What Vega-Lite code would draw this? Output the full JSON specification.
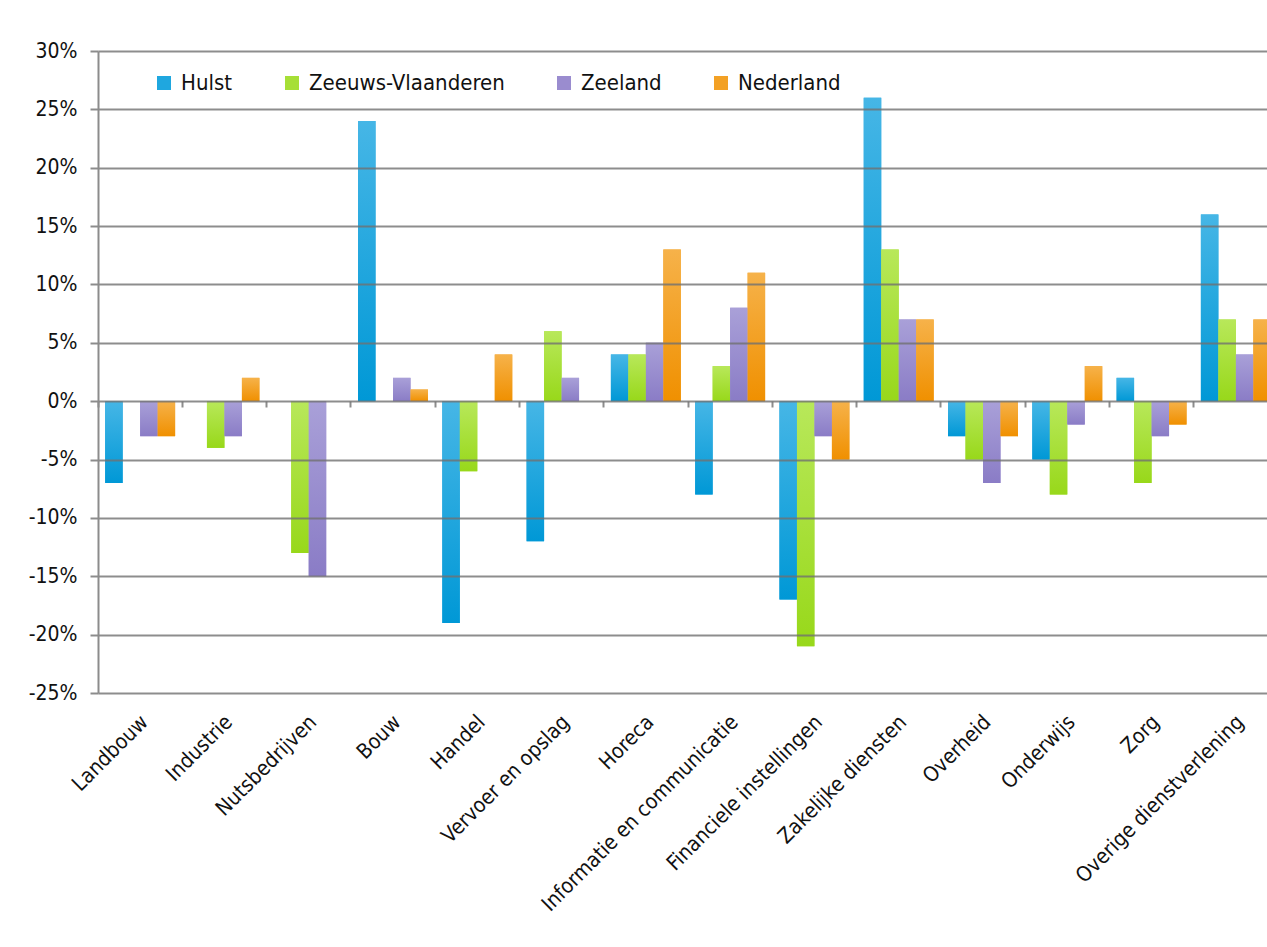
{
  "$schema": "https://vega.github.io/schema/vega-lite/v6.json",
  "description": "Groei werkgelegenheid per sector, Hulst vergeleken met regio",
  "width": 1169,
  "height": 642,
  "autosize": {"type": "none"},
  "padding": {"left": 98, "top": 51, "right": 0, "bottom": 254},
  "background": "white",
  "data": {
    "values": [
      {"sector": "Landbouw", "regio": "Hulst", "value": -7},
      {"sector": "Landbouw", "regio": "Zeeuws-Vlaanderen", "value": 0},
      {"sector": "Landbouw", "regio": "Zeeland", "value": -3},
      {"sector": "Landbouw", "regio": "Nederland", "value": -3},
      {"sector": "Industrie", "regio": "Hulst", "value": 0},
      {"sector": "Industrie", "regio": "Zeeuws-Vlaanderen", "value": -4},
      {"sector": "Industrie", "regio": "Zeeland", "value": -3},
      {"sector": "Industrie", "regio": "Nederland", "value": 2},
      {"sector": "Nutsbedrijven", "regio": "Hulst", "value": 0},
      {"sector": "Nutsbedrijven", "regio": "Zeeuws-Vlaanderen", "value": -13},
      {"sector": "Nutsbedrijven", "regio": "Zeeland", "value": -15},
      {"sector": "Nutsbedrijven", "regio": "Nederland", "value": 0},
      {"sector": "Bouw", "regio": "Hulst", "value": 24},
      {"sector": "Bouw", "regio": "Zeeuws-Vlaanderen", "value": 0},
      {"sector": "Bouw", "regio": "Zeeland", "value": 2},
      {"sector": "Bouw", "regio": "Nederland", "value": 1},
      {"sector": "Handel", "regio": "Hulst", "value": -19},
      {"sector": "Handel", "regio": "Zeeuws-Vlaanderen", "value": -6},
      {"sector": "Handel", "regio": "Zeeland", "value": 0},
      {"sector": "Handel", "regio": "Nederland", "value": 4},
      {"sector": "Vervoer en opslag", "regio": "Hulst", "value": -12},
      {"sector": "Vervoer en opslag", "regio": "Zeeuws-Vlaanderen", "value": 6},
      {"sector": "Vervoer en opslag", "regio": "Zeeland", "value": 2},
      {"sector": "Vervoer en opslag", "regio": "Nederland", "value": 0},
      {"sector": "Horeca", "regio": "Hulst", "value": 4},
      {"sector": "Horeca", "regio": "Zeeuws-Vlaanderen", "value": 4},
      {"sector": "Horeca", "regio": "Zeeland", "value": 5},
      {"sector": "Horeca", "regio": "Nederland", "value": 13},
      {"sector": "Informatie en communicatie", "regio": "Hulst", "value": -8},
      {"sector": "Informatie en communicatie", "regio": "Zeeuws-Vlaanderen", "value": 3},
      {"sector": "Informatie en communicatie", "regio": "Zeeland", "value": 8},
      {"sector": "Informatie en communicatie", "regio": "Nederland", "value": 11},
      {"sector": "Financiele instellingen", "regio": "Hulst", "value": -17},
      {"sector": "Financiele instellingen", "regio": "Zeeuws-Vlaanderen", "value": -21},
      {"sector": "Financiele instellingen", "regio": "Zeeland", "value": -3},
      {"sector": "Financiele instellingen", "regio": "Nederland", "value": -5},
      {"sector": "Zakelijke diensten", "regio": "Hulst", "value": 26},
      {"sector": "Zakelijke diensten", "regio": "Zeeuws-Vlaanderen", "value": 13},
      {"sector": "Zakelijke diensten", "regio": "Zeeland", "value": 7},
      {"sector": "Zakelijke diensten", "regio": "Nederland", "value": 7},
      {"sector": "Overheid", "regio": "Hulst", "value": -3},
      {"sector": "Overheid", "regio": "Zeeuws-Vlaanderen", "value": -5},
      {"sector": "Overheid", "regio": "Zeeland", "value": -7},
      {"sector": "Overheid", "regio": "Nederland", "value": -3},
      {"sector": "Onderwijs", "regio": "Hulst", "value": -5},
      {"sector": "Onderwijs", "regio": "Zeeuws-Vlaanderen", "value": -8},
      {"sector": "Onderwijs", "regio": "Zeeland", "value": -2},
      {"sector": "Onderwijs", "regio": "Nederland", "value": 3},
      {"sector": "Zorg", "regio": "Hulst", "value": 2},
      {"sector": "Zorg", "regio": "Zeeuws-Vlaanderen", "value": -7},
      {"sector": "Zorg", "regio": "Zeeland", "value": -3},
      {"sector": "Zorg", "regio": "Nederland", "value": -2},
      {"sector": "Overige dienstverlening", "regio": "Hulst", "value": 16},
      {"sector": "Overige dienstverlening", "regio": "Zeeuws-Vlaanderen", "value": 7},
      {"sector": "Overige dienstverlening", "regio": "Zeeland", "value": 4},
      {"sector": "Overige dienstverlening", "regio": "Nederland", "value": 7}
    ]
  },
  "encoding": {
    "xOffset": {
      "field": "regio",
      "type": "nominal",
      "sort": ["Hulst", "Zeeuws-Vlaanderen", "Zeeland", "Nederland"],
      "scale": {"paddingInner": 0, "paddingOuter": 0.41}
    },
    "y": {
      "field": "value",
      "type": "quantitative",
      "scale": {"domain": [-25, 30], "nice": false, "zero": false},
      "axis": {
        "title": null,
        "values": [-25, -20, -15, -10, -5, 0, 5, 10, 15, 20, 25, 30],
        "labelExpr": "datum.value + '%'",
        "labelFontSize": 21,
        "labelColor": "#111",
        "labelPadding": 13,
        "domain": true,
        "domainColor": "#8c8c8c",
        "domainWidth": 2,
        "ticks": true,
        "tickSize": 8,
        "tickColor": "#8c8c8c",
        "tickWidth": 2,
        "grid": true,
        "gridColor": "#707070",
        "gridOpacity": 0.8,
        "gridWidth": 2,
        "zindex": 1
      }
    }
  },
  "resolve": {"axis": {"x": "independent"}},
  "layer": [
    {
      "mark": {"type": "bar"},
      "encoding": {
        "x": {
          "field": "sector",
          "type": "nominal",
          "sort": null,
          "scale": {"range": [0, 1180], "paddingInner": 0, "paddingOuter": 0},
          "axis": {
            "title": null,
            "orient": "bottom",
            "labelAngle": -45,
            "labelFontSize": 21,
            "labelColor": "#111",
            "labelPadding": 18,
            "labelOffset": -3,
            "labelLimit": 400,
            "domain": false,
            "ticks": false,
            "grid": false
          }
        },
        "color": {
          "field": "regio",
          "type": "nominal",
          "scale": {
            "domain": ["Hulst", "Zeeuws-Vlaanderen", "Zeeland", "Nederland"],
            "range": ["#1fa7df", "#a6df36", "#9a8ccf", "#f3a125"]
          },
          "legend": {
            "title": null,
            "orient": "none",
            "legendX": 55,
            "legendY": 21,
            "direction": "horizontal",
            "columns": 4,
            "columnPadding": 48,
            "symbolType": "square",
            "symbolSize": 196,
            "symbolStrokeWidth": 0,
            "labelFontSize": 22,
            "labelColor": "#111",
            "labelOffset": 6,
            "labelLimit": 400
          }
        }
      }
    },
    {
      "mark": {"type": "bar"},
      "encoding": {
        "x": {
          "field": "sector",
          "type": "nominal",
          "sort": null,
          "scale": {"range": [0, 1180], "paddingInner": 0, "paddingOuter": 0},
          "axis": {
            "title": null,
            "orient": "bottom",
            "offset": -292,
            "labels": false,
            "domain": false,
            "ticks": true,
            "tickSize": 6,
            "tickWidth": 2,
            "tickColor": "#8c8c8c",
            "bandPosition": 0,
            "grid": false
          }
        },
        "fill": {
          "condition": [
            {
              "test": "datum.regio === 'Hulst'",
              "value": {
                "gradient": "linear", "x1": 0, "y1": 0, "x2": 0, "y2": 1,
                "stops": [{"offset": 0, "color": "#46b6e6"}, {"offset": 1, "color": "#0098d6"}]
              }
            },
            {
              "test": "datum.regio === 'Zeeuws-Vlaanderen'",
              "value": {
                "gradient": "linear", "x1": 0, "y1": 0, "x2": 0, "y2": 1,
                "stops": [{"offset": 0, "color": "#b8e85a"}, {"offset": 1, "color": "#98d81a"}]
              }
            },
            {
              "test": "datum.regio === 'Zeeland'",
              "value": {
                "gradient": "linear", "x1": 0, "y1": 0, "x2": 0, "y2": 1,
                "stops": [{"offset": 0, "color": "#a9a0d8"}, {"offset": 1, "color": "#8a7cc6"}]
              }
            }
          ],
          "value": {
            "gradient": "linear", "x1": 0, "y1": 0, "x2": 0, "y2": 1,
            "stops": [{"offset": 0, "color": "#f6b24a"}, {"offset": 1, "color": "#f09000"}]
          }
        }
      }
    }
  ],
  "config": {
    "font": "DejaVu Sans Condensed, sans-serif",
    "view": {"stroke": null}
  }
}
